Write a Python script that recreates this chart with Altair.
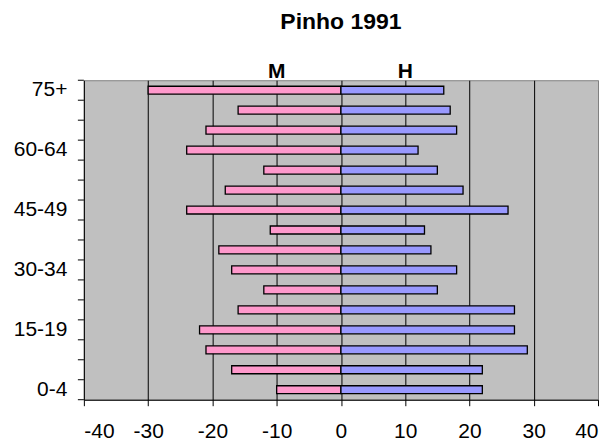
import altair as alt
import pandas as pd

categories = ["0-4", "5-9", "10-14", "15-19", "20-24", "25-29", "30-34", "35-39",
              "40-44", "45-49", "50-54", "55-59", "60-64", "65-69", "70-74", "75+"]
women = [-10, -17, -21, -22, -16, -12, -17, -19, -11, -24, -18, -12, -24, -21, -16, -30]
men = [22, 22, 29, 27, 27, 15, 18, 14, 13, 26, 19, 15, 12, 18, 17, 16]
shown_labels = ["0-4", "15-19", "30-34", "45-49", "60-64", "75+"]
x_ticks = [-40, -30, -20, -10, 0, 10, 20, 30, 40]
series_names = ["M", "H"]
series_label_pos = [-10, 10]
colors = ["#FF99CC", "#9999FF"]

rows = []
for c, w, m in zip(categories, women, men):
    rows.append({"age": c, "sex": "M", "value": w})
    rows.append({"age": c, "sex": "H", "value": m})
df = pd.DataFrame(rows)
lab_df = pd.DataFrame({"name": series_names, "x": series_label_pos})
cat_df = pd.DataFrame({"age": categories})
bottom_df = pd.DataFrame({"age": categories[:1]})

FONT = "Liberation Sans"
label_expr = "indexof(" + str(shown_labels) + ", datum.value) >= 0 ? datum.value : ''"
y_sort = list(reversed(categories))

xscale = alt.Scale(domain=[-40, 40], nice=False, zero=False)
yscale = alt.Scale(paddingInner=0, paddingOuter=0)

bars = alt.Chart(df).mark_bar(size=8, stroke="black", strokeWidth=1.3).encode(
    x=alt.X("value:Q", scale=xscale,
            axis=alt.Axis(values=x_ticks, title=None, grid=True,
                          gridColor={"condition": {"test": "abs(datum.value) == 40", "value": "#808080"}, "value": "black"},
                          gridWidth=1, domainColor="black", tickColor="black",
                          tickSize=6, labelFontSize=21, labelFont=FONT,
                          labelColor="black", labelPadding=15,
                          labelExpr="'' + datum.value")),
    y=alt.Y("age:N", sort=y_sort, scale=yscale,
            axis=alt.Axis(title=None, ticks=False, labelExpr=label_expr,
                          domainColor="black", labelFontSize=21, labelFont=FONT,
                          labelColor="black", labelPadding=17, grid=False)),
    color=alt.Color("sex:N", scale=alt.Scale(domain=series_names, range=colors), legend=None),
)

ticks_top = alt.Chart(cat_df).mark_rule(color="black", strokeWidth=1).encode(
    y=alt.Y("age:N", sort=y_sort, scale=yscale, bandPosition=0),
    x=alt.value(-6), x2=alt.value(0),
)
ticks_bottom = alt.Chart(bottom_df).mark_rule(color="black", strokeWidth=1).encode(
    y=alt.Y("age:N", sort=y_sort, scale=yscale, bandPosition=1),
    x=alt.value(-6), x2=alt.value(0),
)

labels = alt.Chart(lab_df).mark_text(fontSize=21, fontWeight="bold", font=FONT,
                                     baseline="alphabetic", color="black").encode(
    x=alt.X("x:Q", scale=xscale),
    y=alt.value(-2),
    text="name:N",
)

chart = alt.layer(bars, ticks_top, ticks_bottom, labels).properties(
    width=515, height=320,
    title=alt.TitleParams("Pinho 1991", fontSize=23, fontWeight="bold", font=FONT,
                          color="black", anchor="middle", offset=27),
    padding={"left": 5, "top": 3, "right": 5, "bottom": 5},
    background="white",
).configure_view(fill="#C0C0C0", stroke="#808080", strokeWidth=1)

chart.save("out.html", embed_options={"renderer": "svg", "actions": False})
